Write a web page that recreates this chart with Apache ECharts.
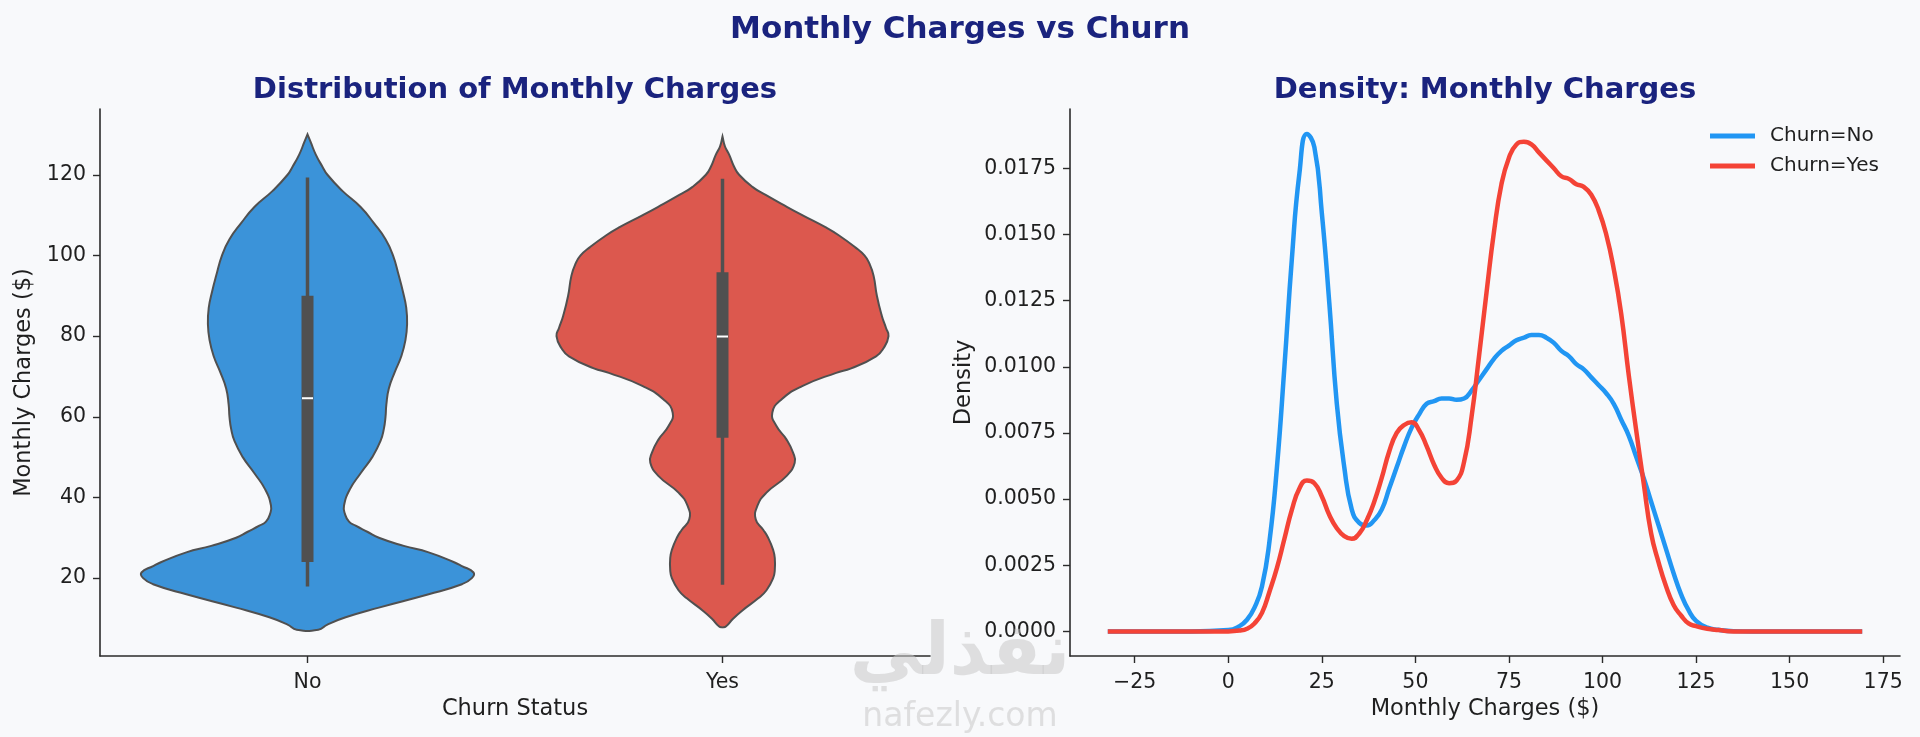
<!DOCTYPE html>
<html lang="en">
<head>
    <meta charset="UTF-8">
    <title>Monthly Charges vs Churn</title>
    <style>
        body {
            margin: 0;
            padding: 0;
            background-color: #f8f9fb;
        }
        #chart {
            width: 1920px;
            height: 737px;
        }
    </style>
    <script src="https://cdn.jsdelivr.net/npm/echarts@6/dist/echarts.min.js"></script>
</head>
<body>
<div id="chart"></div>
<script>
	var chart = echarts.init(document.getElementById('chart'));

	// --- violin data (values in $, widths relative to the widest point) ---
	var categories = ['No', 'Yes'];
	var violinNoY = [130, 128, 125, 122, 120, 116, 112, 108, 104, 100, 95, 91, 87, 83, 79, 75, 71, 67, 63, 60, 57, 54, 50, 46, 42, 38, 36, 34, 33, 31.5, 30, 28, 26.4, 24, 23, 21.4, 20, 18.5, 16, 12.7, 10.3, 8.5, 7.2];
	var violinNoW = [0, 0.02, 0.05, 0.09, 0.12, 0.21, 0.32, 0.40, 0.47, 0.515, 0.55, 0.575, 0.595, 0.60, 0.59, 0.565, 0.525, 0.49, 0.475, 0.47, 0.46, 0.44, 0.39, 0.32, 0.255, 0.22, 0.225, 0.25, 0.29, 0.36, 0.43, 0.58, 0.73, 0.88, 0.93, 1.0, 0.99, 0.93, 0.73, 0.43, 0.23, 0.12, 0.065];
	var violinYesY = [129.5, 127, 125, 122, 120, 117, 115, 112, 110, 107, 105, 102, 100, 98, 95, 90, 85, 82, 80, 77, 75, 72, 70.9, 67.6, 64.3, 61, 57.7, 54.4, 51.1, 48.6, 45.3, 41.2, 37.9, 34.6, 32, 30, 27, 25, 22, 20, 17, 15, 12, 10, 8, 7.8];
	var violinYesW = [0, 0.015, 0.04, 0.07, 0.10, 0.18, 0.26, 0.39, 0.48, 0.62, 0.70, 0.80, 0.855, 0.885, 0.91, 0.93, 0.96, 0.985, 1.0, 0.97, 0.925, 0.775, 0.685, 0.48, 0.355, 0.30, 0.325, 0.385, 0.425, 0.435, 0.385, 0.265, 0.21, 0.20, 0.245, 0.275, 0.305, 0.315, 0.315, 0.305, 0.265, 0.215, 0.12, 0.065, 0.02, 0];
	// whisker low, Q1, median, Q3, whisker high
	var boxNo = [17.9, 24.0, 64.6, 90.0, 119.3];
	var boxYes = [18.35, 54.8, 79.9, 95.8, 119.0];
	var chargeTicks = [20, 40, 60, 80, 100, 120];

	// --- density data ---
	var densityX = [-32.2, -20, -10, 0, 3, 5, 7, 9, 11, 13, 15, 17, 19, 21, 23, 25, 27, 29, 31, 33, 35, 37, 39, 41, 43, 45, 47, 49, 51, 53, 55, 57, 59, 61, 63, 65, 67, 69, 71, 73, 75, 77, 79, 81, 83, 85, 87, 89, 91, 93, 95, 97, 99, 101, 103, 105, 107, 109, 111, 113, 115, 117, 119, 121, 123, 125, 128, 131, 135, 140, 150, 160, 169.4];
	var densityNo = [0, 0, 0, 0.00005, 0.0002, 0.00044, 0.0009, 0.0017, 0.0034, 0.0062, 0.0100, 0.0141, 0.0173, 0.0188, 0.0183, 0.0158, 0.0124, 0.0086, 0.0062, 0.0046, 0.0041, 0.0040, 0.0042, 0.0046, 0.0054, 0.0062, 0.0070, 0.0077, 0.0082, 0.0086, 0.0087, 0.0088, 0.0088, 0.00875, 0.0088, 0.0091, 0.0095, 0.0099, 0.0103, 0.0106, 0.0108, 0.0110, 0.0111, 0.0112, 0.0112, 0.0111, 0.0109, 0.0106, 0.0104, 0.0101, 0.0099, 0.0096, 0.0093, 0.0090, 0.0086, 0.0080, 0.0074, 0.0066, 0.0058, 0.0049, 0.0040, 0.0031, 0.0022, 0.0014, 0.0008, 0.0004, 0.00014, 0.00006, 0.00001, 0, 0, 0, 0];
	var densityYes = [0, 0, 0, 0, 0.00003, 0.0001, 0.0003, 0.0007, 0.0015, 0.0024, 0.0035, 0.0046, 0.0054, 0.0057, 0.0056, 0.0051, 0.0044, 0.0039, 0.0036, 0.0035, 0.0037, 0.0042, 0.0049, 0.0058, 0.0068, 0.0075, 0.0078, 0.0079, 0.0076, 0.0070, 0.0063, 0.0058, 0.0056, 0.0057, 0.0064, 0.0081, 0.0104, 0.0128, 0.0151, 0.0169, 0.0179, 0.0184, 0.0185, 0.0184, 0.0181, 0.0178, 0.0175, 0.0172, 0.0171, 0.0169, 0.0168, 0.0165, 0.0159, 0.0150, 0.0137, 0.0120, 0.0097, 0.0076, 0.0056, 0.0037, 0.0026, 0.0017, 0.0010, 0.0006, 0.0003, 0.0002, 0.0001, 0.00005, 0, 0, 0, 0, 0];
	var densityXTicks = [-25, 0, 25, 50, 75, 100, 125, 150, 175];
	var densityYTicks = [0, 0.0025, 0.005, 0.0075, 0.01, 0.0125, 0.015, 0.0175];

	var violinY = [violinNoY, violinYesY];
	var violinW = [violinNoW, violinYesW];
	var boxStats = [boxNo, boxYes];
	var violinColors = ['#3b93d9', '#dc584e'];
	var edgeColor = '#505050';
	var font = 'DejaVu Sans';

	var pairs = function (xs, ys) {
		var res = [];
		for (var i = 0; i < xs.length; i++) {
			res.push([xs[i], ys[i]]);
		}
		return res;
	};

	var renderViolin = function (params, api) {
		var cat = api.value(0);
		var ys = violinY[cat], ws = violinW[cat], box = boxStats[cat];
		var cx = api.coord([cat, 0])[0];
		var half = api.size([1, 0])[0] * 0.4;
		var right = [], left = [];
		for (var i = 0; i < ys.length; i++) {
			var py = api.coord([cat, ys[i]])[1];
			right.push([cx + ws[i] * half, py]);
			left.unshift([cx - ws[i] * half, py]);
		}
		var yOf = function (v) { return api.coord([cat, v])[1]; };
		return {
			type: 'group',
			children: [
				{
					type: 'polygon',
					shape: {points: right.concat(left), smooth: 0.5},
					style: {fill: violinColors[cat], stroke: edgeColor, lineWidth: 2}
				},
				{
					type: 'line',
					shape: {x1: cx, y1: yOf(box[0]), x2: cx, y2: yOf(box[4])},
					style: {stroke: edgeColor, lineWidth: 3.5}
				},
				{
					type: 'rect',
					shape: {x: cx - 6, y: yOf(box[3]), width: 12, height: yOf(box[1]) - yOf(box[3])},
					style: {fill: edgeColor}
				},
				{
					type: 'line',
					shape: {x1: cx - 5.5, y1: yOf(box[2]), x2: cx + 5.5, y2: yOf(box[2])},
					style: {stroke: '#ffffff', lineWidth: 2}
				}
			]
		};
	};

	var axisCommon = {
		axisLine: {show: true, onZero: false, lineStyle: {color: '#2b2b2b', width: 1.6}},
		axisTick: {show: true, inside: false, length: 7, lineStyle: {color: '#2b2b2b', width: 1.4}},
		splitLine: {show: false},
		nameTextStyle: {fontFamily: font, fontSize: 22.5, color: '#1f1f1f'}
	};
	var labelStyle = {fontFamily: font, fontSize: 20.5, color: '#1f1f1f'};

	var option = {
		backgroundColor: '#f8f9fb',
		animation: false,
		title: [
			{
				text: 'Monthly Charges vs Churn',
				left: 960, top: 14.5, textAlign: 'center', padding: 0,
				textStyle: {fontFamily: font, fontSize: 31, fontWeight: 'bold', color: '#1a237e', lineHeight: 31}
			},
			{
				text: 'Distribution of Monthly Charges',
				left: 515, top: 75.5, textAlign: 'center', padding: 0,
				textStyle: {fontFamily: font, fontSize: 29, fontWeight: 'bold', color: '#1a237e', lineHeight: 29}
			},
			{
				text: 'Density: Monthly Charges',
				left: 1485, top: 75.5, textAlign: 'center', padding: 0,
				textStyle: {fontFamily: font, fontSize: 29, fontWeight: 'bold', color: '#1a237e', lineHeight: 29}
			}
		],
		legend: {
			data: ['Churn=No', 'Churn=Yes'],
			orient: 'vertical',
			left: 1710, top: 126,
			padding: 0,
			icon: 'rect',
			itemWidth: 45, itemHeight: 5, itemGap: 10,
			textStyle: {fontFamily: font, fontSize: 20, color: '#1f1f1f', lineHeight: 20, padding: [0, 0, 0, 10]}
		},
		grid: [
			{left: 100, right: 990, top: 109, bottom: 81, outerBoundsMode: 'none'},
			{left: 1070, right: 20, top: 109, bottom: 81, outerBoundsMode: 'none'}
		],
		xAxis: [
			Object.assign({}, axisCommon, {
				gridIndex: 0,
				type: 'category',
				data: categories,
				boundaryGap: true,
				name: 'Churn Status',
				nameLocation: 'middle',
				nameGap: 41,
				axisTick: Object.assign({}, axisCommon.axisTick, {alignWithLabel: true}),
				axisLabel: Object.assign({margin: 16}, labelStyle)
			}),
			Object.assign({}, axisCommon, {
				gridIndex: 1,
				type: 'value',
				min: -42.3, max: 179.5,
				name: 'Monthly Charges ($)',
				nameLocation: 'middle',
				nameGap: 41,
				axisTick: Object.assign({}, axisCommon.axisTick, {customValues: densityXTicks}),
				axisLabel: Object.assign({margin: 16, customValues: densityXTicks,
					formatter: function (v) { return v < 0 ? '\u2212' + Math.abs(v) : String(v); }}, labelStyle)
			})
		],
		yAxis: [
			Object.assign({}, axisCommon, {
				gridIndex: 0,
				type: 'value',
				min: 0.7, max: 136.3,
				name: 'Monthly Charges ($)',
				nameLocation: 'middle',
				nameGap: 64,
				axisTick: Object.assign({}, axisCommon.axisTick, {customValues: chargeTicks}),
				axisLabel: Object.assign({margin: 14, customValues: chargeTicks}, labelStyle)
			}),
			Object.assign({}, axisCommon, {
				gridIndex: 1,
				type: 'value',
				min: -0.00093, max: 0.01974,
				name: 'Density',
				nameLocation: 'middle',
				nameGap: 94,
				axisTick: Object.assign({}, axisCommon.axisTick, {customValues: densityYTicks}),
				axisLabel: Object.assign({margin: 14, customValues: densityYTicks,
					formatter: function (v) { return v.toFixed(4); }}, labelStyle)
			})
		],
		graphic: [
			{
				type: 'text', x: 960, y: 655, z: 100, silent: true,
				style: {text: 'نفذلي', fontFamily: font, fontSize: 72, fontWeight: 'bold',
					fill: 'rgba(200,200,200,0.55)', align: 'center', verticalAlign: 'middle'}
			},
			{
				type: 'text', x: 960, y: 717, z: 100, silent: true,
				style: {text: 'nafezly.com', fontFamily: font, fontSize: 33,
					fill: 'rgba(200,200,200,0.55)', align: 'center', verticalAlign: 'middle'}
			}
		],
		series: [
			{
				name: 'violin',
				type: 'custom',
				xAxisIndex: 0, yAxisIndex: 0,
				renderItem: renderViolin,
				encode: {x: 0, y: 1},
				data: [[0, 0], [1, 0]]
			},
			{
				name: 'Churn=No',
				type: 'line',
				xAxisIndex: 1, yAxisIndex: 1,
				data: pairs(densityX, densityNo),
				showSymbol: false,
				smooth: 0.5,
				color: '#2196f3',
				lineStyle: {color: '#2196f3', width: 4.5}
			},
			{
				name: 'Churn=Yes',
				type: 'line',
				xAxisIndex: 1, yAxisIndex: 1,
				data: pairs(densityX, densityYes),
				showSymbol: false,
				smooth: 0.5,
				color: '#f44336',
				lineStyle: {color: '#f44336', width: 4.5}
			}
		]
	};
	chart.setOption(option);
    window.onresize = chart.resize;
</script>
</body>
</html>
